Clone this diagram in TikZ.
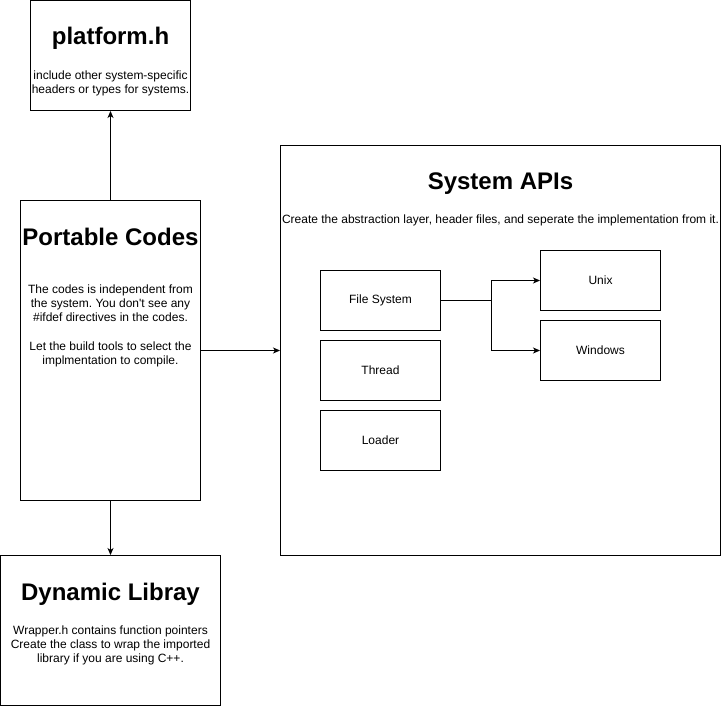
\documentclass[tikz,border=0pt]{standalone}
\usepackage{fontspec}
\setmainfont{Liberation Sans}[Ligatures=TeXOff]
\usetikzlibrary{arrows.meta}
\frenchspacing
\tikzset{
  box/.style={draw=black, line width=1pt, inner sep=0pt, rectangle},
  title/.style={font=\fontsize{24}{28}\selectfont\bfseries, anchor=base, inner sep=0pt},
  body/.style={font=\fontsize{12}{14}\selectfont\frenchspacing, align=center, inner sep=0pt},
  conn/.style={draw=black, line width=1pt, -{Stealth[length=7pt,width=6pt,inset=2pt]}},
  plain/.style={draw=black, line width=1pt}
}
\begin{document}
\begin{tikzpicture}[x=1pt,y=-1pt]
\useasboundingbox (0,0) rectangle (721,706);
\fill[white] (0,0) rectangle (721,706);
% boxes
\node[box, minimum width=160pt, minimum height=110pt] (plat) at (110.5,55.5) {};
\node[box, minimum width=180pt, minimum height=300pt] (port) at (110.5,350.5) {};
\node[box, minimum width=220pt, minimum height=150pt] (dyn) at (110.5,630.5) {};
\node[box, minimum width=440pt, minimum height=410pt] (sys) at (500.5,350.5) {};
\node[box, body, minimum width=120pt, minimum height=60pt] (fs) at (380.5,300.5) {File System};
\node[box, body, minimum width=120pt, minimum height=60pt] (th) at (380.5,370.5) {Thread};
\node[box, body, minimum width=120pt, minimum height=60pt] (ld) at (380.5,440.5) {Loader};
\node[box, body, minimum width=120pt, minimum height=60pt] (ux) at (600.5,280.5) {Unix};
\node[box, body, minimum width=120pt, minimum height=60pt] (win) at (600.5,350.5) {Windows};
% texts
\node[title] (platT) at (110.5,45) {platform.h};
\node[body] (platB) at (110.5,83) {include other system-specific\\headers or types for systems.};
\node[title] (portT) at (110.5,245) {Portable Codes};
\node[body] (portB) at (110.5,325.5) {The codes is independent from\\the system. You don't see any\\\#ifdef directives in the codes.\\[15pt]Let the build tools to select the\\implmentation to compile.};
\node[title] (sysT) at (500.5,190) {System APIs};
\node[body, anchor=base] (sysB) at (500.5,224) {Create the abstraction layer, header files, and seperate the implementation from it.};
\node[title] (dynT) at (110.5,600) {Dynamic Libray};
\node[body] (dynB) at (110.5,645) {Wrapper.h contains function pointers\\Create the class to wrap the imported\\library if you are using C++.};
% connectors
\draw[conn] (port.north) -- (plat.south);
\draw[conn] (port.south) -- (dyn.north);
\draw[conn] (port.east) -- (sys.west);
\draw[plain] (fs.east) -- ++(50,0) coordinate (br);
\draw[conn] (br) |- (ux.west);
\draw[conn] (br) |- (win.west);
\end{tikzpicture}
\end{document}
